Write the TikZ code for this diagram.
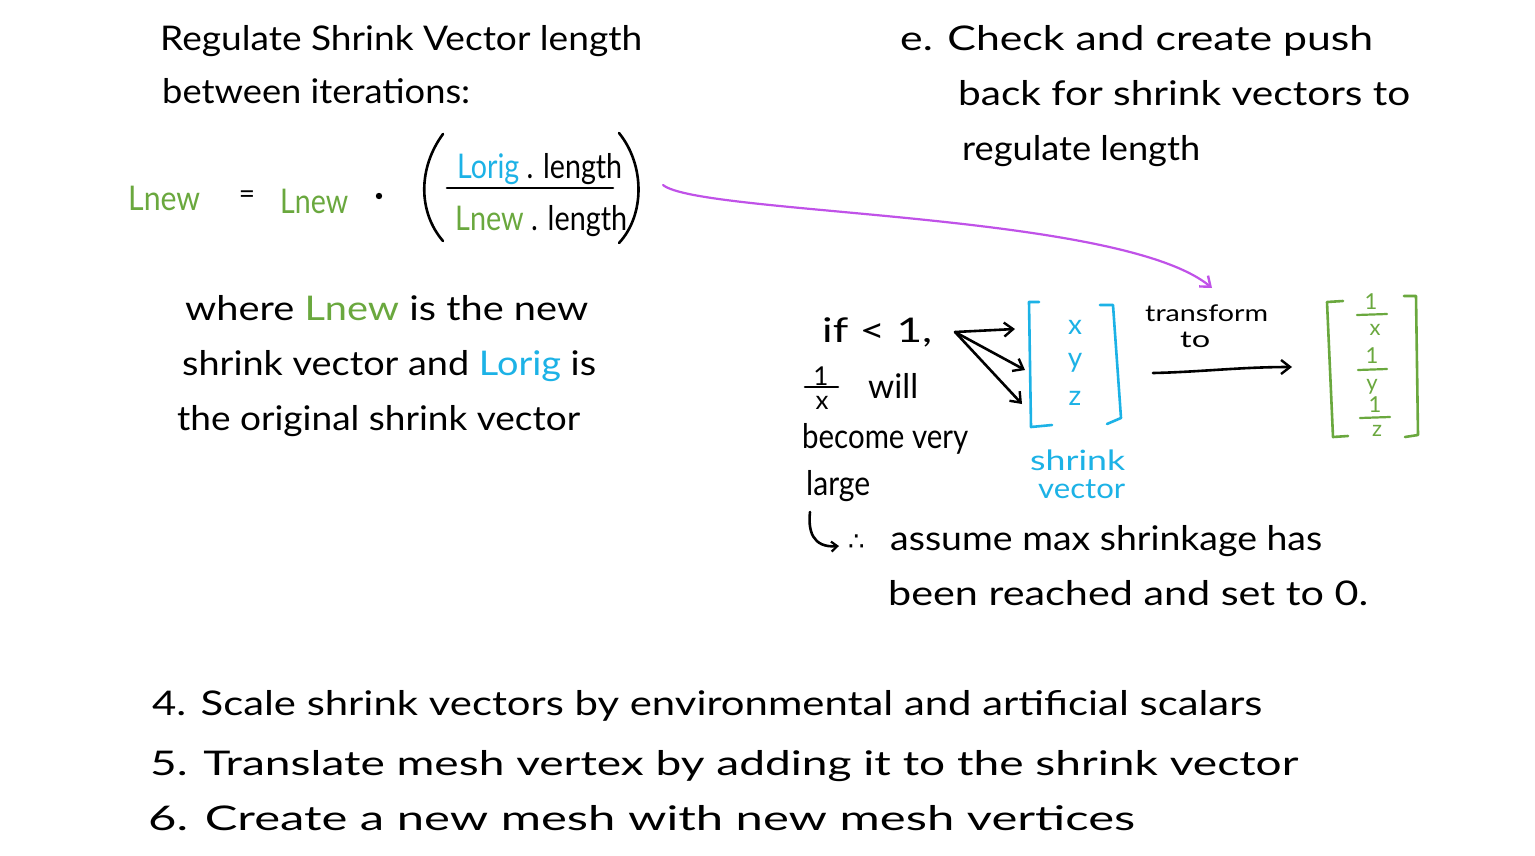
\documentclass[tikz,border=0pt]{standalone}
\usepackage{fontspec}
\setmainfont{Lato}
\newfontfamily\djv{DejaVu Sans}
\usetikzlibrary{arrows.meta}
\definecolor{hgreen}{RGB}{106,168,62}
\definecolor{hblue}{RGB}{28,178,230}
\definecolor{hpurple}{RGB}{192,82,232}
\newcommand{\fw}[2]{\resizebox{#1pt}{\height}{#2}}
\begin{document}
\begin{tikzpicture}[x=1pt,y=-1pt,
  txt/.style={inner sep=0pt, anchor=base west, font=\fontsize{34}{40}\selectfont},
  smalltxt/.style={inner sep=0pt, anchor=base west, font=\fontsize{28}{32}\selectfont},
  tinytxt/.style={inner sep=0pt, anchor=base west, font=\fontsize{23}{26}\selectfont},
  ctr/.style={inner sep=0pt, anchor=center, font=\fontsize{28}{32}\selectfont},
  pen/.style={line width=2.6pt, line cap=round, line join=round},
  harrow/.style={pen, -{Straight Barb[length=9pt,width=14pt,line width=2.4pt]}},
]
\useasboundingbox (0,0) rectangle (1535,855);
\fill[white] (0,0) rectangle (1535,855);

% ---- top left
\node[txt] (t1) at (160,50) {\fw{482}{Regulate Shrink Vector length}};
\node[txt] (t2) at (162,103) {\fw{308}{between iterations:}};

% equation
\node[txt,text=hgreen] (lhs) at (128,210) {\fw{72}{Lnew}};
\node[ctr] (eq) at (247,197) {=};
\node[txt,text=hgreen] (rhs) at (280,213) {\fw{68}{Lnew}};
\fill (379,196) circle (3.2pt);
\node[txt] (num) at (457,178) {\fw{165}{\textcolor{hblue}{Lorig} . length}};
\node[txt] (den) at (455,230) {\fw{172}{\textcolor{hgreen}{Lnew} . length}};
\coordinate (fl) at (447,188);
\coordinate (fr) at (613,188);
\draw[pen] (fl) -- (fr);
\draw[pen] (443,134) .. controls (418,168) and (418,212) .. (443,241);
\draw[pen] (619,133) .. controls (645,165) and (645,215) .. (619,243);

\node[txt] (w1) at (185,320) {\fw{403}{where \textcolor{hgreen}{Lnew} is the new}};
\node[txt] (w2) at (182,375) {\fw{414}{shrink vector and \textcolor{hblue}{Lorig} is}};
\node[txt] (w3) at (177,430) {\fw{403}{the original shrink vector}};

% ---- top right
\node[txt] (e1) at (900,50) {\fw{473}{e. Check and create push}};
\node[txt] (e2) at (958,105) {\fw{452}{back for shrink vectors to}};
\node[txt] (e3) at (962,160) {\fw{238}{regulate length}};

% purple arrow
\coordinate (pstart) at (663,185);
\coordinate (pend) at (1212,288);
\draw[harrow, draw=hpurple, line width=2.2pt] (pstart) .. controls (700,215) and (1120,212) .. (pend);

% ---- middle
\node[txt] (if) at (822,342) {\fw{110}{if < 1,}};
\node[ctr] (one) at (821,376) {\fontsize{26}{28}\selectfont 1};
\draw[pen] (805,387) -- (838,387);
\node[ctr] (ex) at (822,403) {\fontsize{26}{28}\selectfont x};
\node[txt] (will) at (868,398) {\fw{50}{will}};
\node[txt] (bv) at (802,448) {\fw{166}{become very}};
\node[txt] (lg) at (806,495) {\fw{64}{large}};

\coordinate (hk0) at (810,512);
\coordinate (hk1) at (839,546);
\draw[harrow, -{Straight Barb[length=6pt,width=10pt,line width=2.2pt]}] (hk0) .. controls (808,530) and (812,548) .. (hk1);
\node[txt] (therefore) at (848,550) {\fontsize{26}{28}\selectfont\djv ∴};
\node[txt] (a1) at (890,550) {\fw{432}{assume max shrinkage has}};
\node[txt] (a2) at (888,605) {\fw{480}{been reached and set to 0.}};

% fork arrows
\coordinate (fork) at (955,332);
\coordinate (fa) at (1015,329);
\coordinate (fb) at (1025,370);
\coordinate (fc) at (1022,404);
\draw[harrow] (fork) -- (fa);
\draw[harrow] (fork) -- (fb);
\draw[harrow] (fork) -- (fc);

% blue vector
\draw[pen, draw=hblue] (1039,302) -- (1029,302) -- (1031,427) -- (1052,425);
\draw[pen, draw=hblue] (1100,305) -- (1113,305) -- (1121,418) -- (1107,424);
\node[ctr, text=hblue] (vx) at (1075,327) {x};
\node[ctr, text=hblue] (vy) at (1075,363) {y};
\node[ctr, text=hblue] (vz) at (1075,398) {z};
\node[smalltxt, text=hblue] (sv1) at (1030,470) {\fw{95}{shrink}};
\node[smalltxt, text=hblue] (sv2) at (1038,498) {\fw{87}{vector}};

% transform
\node[tinytxt] (tr) at (1145,321) {\fw{123}{transform}};
\node[tinytxt] (to) at (1180,347) {\fw{30}{to}};
\coordinate (ta) at (1153,373);
\coordinate (tb) at (1292,367);
\draw[harrow] (ta) .. controls (1200,372) and (1240,367) .. (tb);

% green vector
\draw[pen, draw=hgreen] (1343,301) -- (1327,302) -- (1333,437) -- (1348,436);
\draw[pen, draw=hgreen] (1404,296) -- (1416,296) -- (1418,435) -- (1405,437);
\begin{scope}[every node/.style={ctr, text=hgreen, font=\fontsize{22}{24}\selectfont}]
\node (g1a) at (1371,302) {1};
\node (g1b) at (1375,330) {x};
\node (g2a) at (1372,356) {1};
\node (g2b) at (1372,387) {y};
\node (g3a) at (1375,405) {1};
\node (g3b) at (1377,431) {z};
\end{scope}
\draw[pen, draw=hgreen, line width=2.2pt] (1357,315) -- (1387,314);
\draw[pen, draw=hgreen, line width=2.2pt] (1358,370) -- (1387,369);
\draw[pen, draw=hgreen, line width=2.2pt] (1360,418) -- (1390,417);

% ---- bottom
\node[txt] (b4) at (152,715) {\fw{1110}{4. Scale shrink vectors by environmental and artificial scalars}};
\node[txt] (b5) at (150,775) {\fw{1148}{5. Translate mesh vertex by adding it to the shrink vector}};
\node[txt] (b6) at (148,830) {\fw{987}{6. Create a new mesh with new mesh vertices}};
\end{tikzpicture}
\end{document}
